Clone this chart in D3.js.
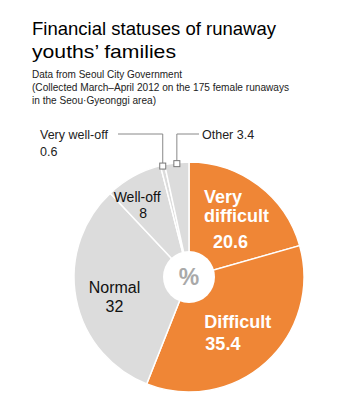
<!DOCTYPE html>
<html>
<head>
<meta charset="utf-8">
<script src="https://cdn.jsdelivr.net/npm/d3@7"></script>
<style>
  html, body { margin: 0; padding: 0; background: #fff; }
  svg { display: block; font-family: "Liberation Sans", Arial, sans-serif; }
</style>
</head>
<body>
<svg id="chart"></svg>
<script>
// data (percent)
var categories = ["Very difficult", "Difficult", "Normal", "Well-off", "Very well-off", "Other"];
var values = [20.6, 35.4, 32, 8, 0.6, 3.4];
var nameLines = [["Very", "difficult"], ["Difficult"], ["Normal"], ["Well-off"], ["Very well-off"], ["Other"]];

var titleLines = ["Financial statuses of runaway", "youths\u2019 families"];
var noteLines = [
  "Data from Seoul City Government",
  "(Collected March\u2013April 2012 on the 175 female runaways",
  "in the Seou\u00b7Gyeonggi area)"
];

var width = 350, height = 405;
var cx = 189, cy = 277, radius = 115, holeR = 26;

var svg = d3.select("#chart")
    .attr("width", width)
    .attr("height", height);

// text fitted to the widths measured on the reference
function fitText(sel, w) {
	sel.each(function() {
		var len = this.getComputedTextLength();
		if (Math.abs(len - w) > 1) {
			d3.select(this).attr("textLength", w).attr("lengthAdjust", "spacingAndGlyphs");
		}
	});
}

var titleWidths = [244, 144];
titleLines.forEach(function(t, i) {
	svg.append("text")
	    .attr("x", 32)
	    .attr("y", 35 + i * 23)
	    .attr("font-size", 19)
	    .attr("fill", "#000")
	    .text(t)
	    .call(fitText, titleWidths[i]);
});

var noteWidths = [150, 257, 124];
noteLines.forEach(function(t, i) {
	svg.append("text")
	    .attr("x", 32)
	    .attr("y", 78 + i * 13)
	    .attr("font-size", 11)
	    .attr("fill", "#222")
	    .text(t)
	    .call(fitText, noteWidths[i]);
});

var color = d3.scaleOrdinal()
    .domain(categories)
    .range(["#ef8636", "#ef8636", "#dcdcdc", "#dcdcdc", "#dcdcdc", "#dcdcdc"]);

var pie = d3.pie().sort(null).value(function(d) { return d; });
var arcs = pie(values);
var arc = d3.arc().innerRadius(0).outerRadius(radius);

var g = svg.append("g").attr("transform", "translate(" + cx + "," + cy + ")");

g.selectAll("path.slice")
    .data(arcs)
  .enter().append("path")
    .attr("class", "slice")
    .attr("d", arc)
    .attr("fill", function(d, i) { return color(categories[i]); })
    .attr("stroke", "#fff")
    .attr("stroke-width", 1.5);

g.append("circle")
    .attr("r", holeR)
    .attr("fill", "#fff");

g.append("text")
    .attr("y", 8)
    .attr("text-anchor", "middle")
    .attr("font-size", 23)
    .attr("font-weight", "bold")
    .attr("fill", "#a9a9a9")
    .text("%");

// inside labels: radius factor and nudges per slice
var inside = [
	{ r: 0.62, dx: -28, dy: -17, fill: "#fff", size: 18, weight: "bold", lh: 19, valGap: 26, valDx: 9, anchor: "start" },
	{ r: 0.64, dx: -34, dy: -4, fill: "#fff", size: 18, weight: "bold", lh: 19, valGap: 22, valDx: 1, anchor: "start" },
	{ r: 0.66, dx: 0, dy: 2, fill: "#111", size: 16, weight: "normal", lh: 19, valGap: 19, valDx: 0, anchor: "middle" },
	{ r: 0.72, dx: -12, dy: -2.5, fill: "#111", size: 14, weight: "normal", lh: 16, valGap: 16, valDx: 6, anchor: "middle" }
];

inside.forEach(function(L, i) {
	var a = (arcs[i].startAngle + arcs[i].endAngle) / 2;
	var x = Math.sin(a) * radius * L.r + L.dx;
	var y = -Math.cos(a) * radius * L.r + L.dy;
	var lines = nameLines[i];
	var t = g.append("text")
	    .attr("text-anchor", L.anchor)
	    .attr("fill", L.fill)
	    .attr("font-size", L.size);
	lines.forEach(function(s, k) {
		t.append("tspan")
		    .attr("x", x)
		    .attr("y", y + k * L.lh)
		    .attr("font-weight", L.weight)
		    .text(s);
	});
	t.append("tspan")
	    .attr("x", x + L.valDx)
	    .attr("y", y + (lines.length - 1) * L.lh + L.valGap)
	    .attr("font-weight", i < 2 ? "bold" : "normal")
	    .text(values[i]);
});

// outside labels with elbow leaders
var elbowY = 134 - cy;
var outside = [
	{ idx: 4, toX: 118 - cx },
	{ idx: 5, toX: 199 - cx }
];
outside.forEach(function(o) {
	var d = arcs[o.idx];
	var a = (d.startAngle + d.endAngle) / 2;
	var mx = Math.sin(a) * (radius - 1);
	var my = -Math.cos(a) * (radius - 1);
	g.append("path")
	    .attr("d", "M" + mx + "," + (my - 3) + "V" + elbowY + "H" + o.toX)
	    .attr("fill", "none")
	    .attr("stroke", "#888")
	    .attr("stroke-width", 1);
	g.append("rect")
	    .attr("x", mx - 3)
	    .attr("y", my - 3)
	    .attr("width", 6)
	    .attr("height", 6)
	    .attr("fill", "#fff")
	    .attr("stroke", "#777")
	    .attr("stroke-width", 1);
});

svg.append("text")
    .attr("x", 40)
    .attr("y", 139)
    .attr("font-size", 12.5)
    .attr("fill", "#222")
    .text(nameLines[4][0]);
svg.append("text")
    .attr("x", 40)
    .attr("y", 156)
    .attr("font-size", 12.5)
    .attr("fill", "#222")
    .text(values[4]);
svg.append("text")
    .attr("x", 202)
    .attr("y", 139)
    .attr("font-size", 12.5)
    .attr("fill", "#222")
    .text(nameLines[5][0] + " " + values[5]);
</script>
</body>
</html>
